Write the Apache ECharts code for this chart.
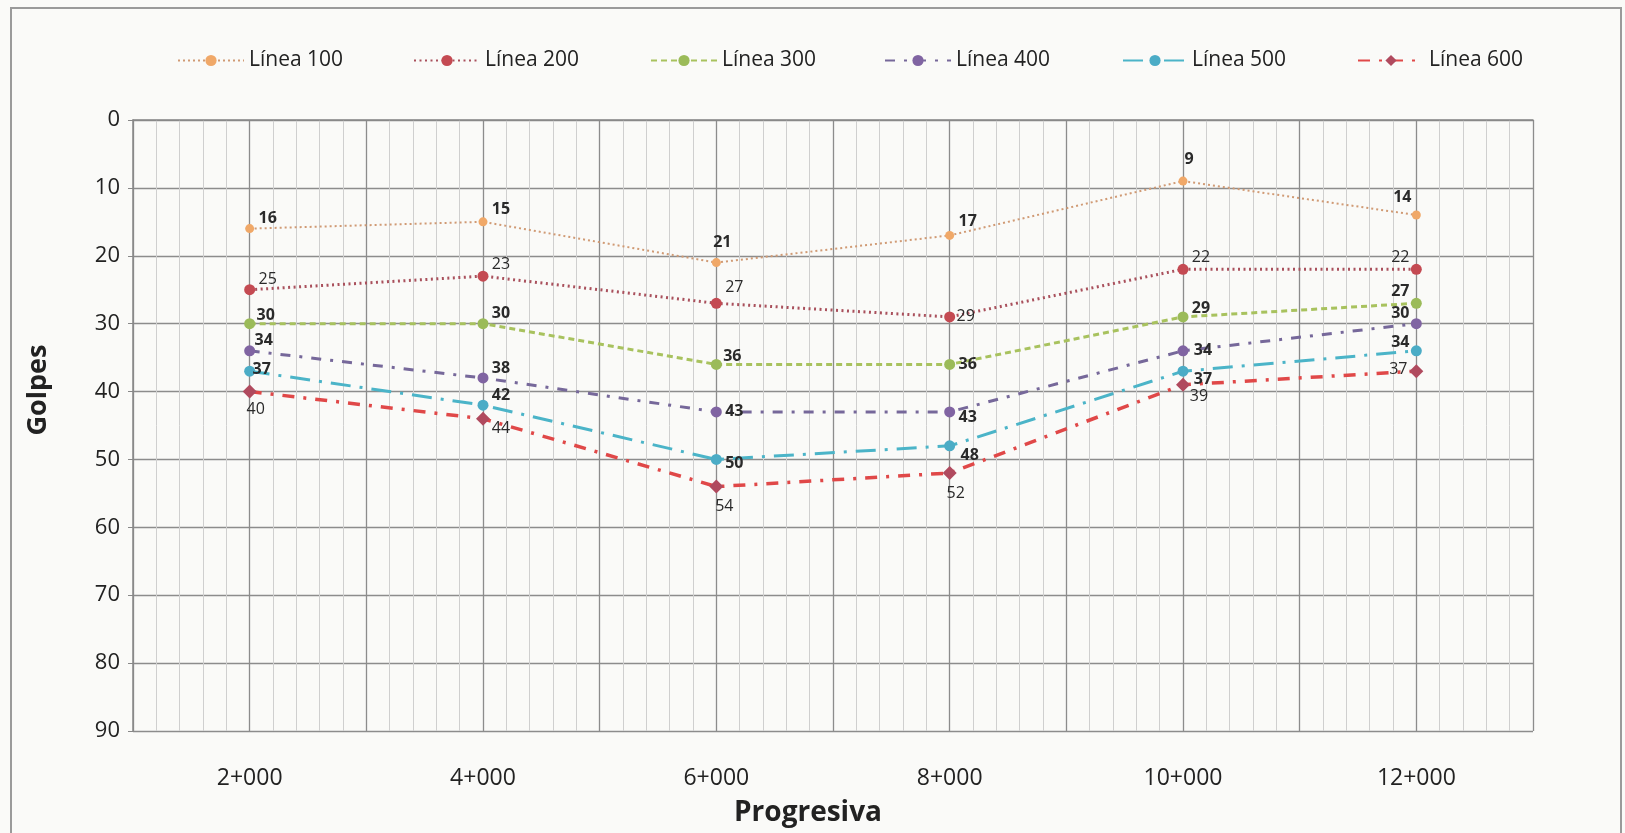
<!DOCTYPE html>
<html>
<head>
<meta charset="utf-8">
<script src="https://cdn.jsdelivr.net/npm/echarts@6/dist/echarts.min.js"></script>
<style>
html,body{margin:0;padding:0;background:#fafaf8;}
#chart{width:1625px;height:833px;}
</style>
</head>
<body>
<div id="chart"></div>
<script>
// ---- data ----
const progresivas = [2000, 4000, 6000, 8000, 10000, 12000];
const tickLabels = ['2+000', '4+000', '6+000', '8+000', '10+000', '12+000'];
const seriesNames = ['Línea 100', 'Línea 200', 'Línea 300', 'Línea 400', 'Línea 500', 'Línea 600'];
const linea100 = [16, 15, 21, 17, 9, 14];
const linea200 = [25, 23, 27, 29, 22, 22];
const linea300 = [30, 30, 36, 36, 29, 27];
const linea400 = [34, 38, 43, 43, 34, 30];
const linea500 = [37, 42, 50, 48, 37, 34];
const linea600 = [40, 44, 54, 52, 39, 37];
const yTicks = [0, 10, 20, 30, 40, 50, 60, 70, 80, 90];

// ---- styling (not data) ----
const styles = [
  {line: '#d09a74', mark: '#f0a868', dash: [2, 3], width: 2, symbol: 'circle', size: 9},
  {line: '#a9505c', mark: '#c44a52', dash: [2, 3.5], width: 3, symbol: 'circle', size: 11},
  {line: '#a8c25e', mark: '#9bbb59', dash: [6, 4], width: 3, symbol: 'circle', size: 11},
  {line: '#76689a', mark: '#8064a2', dash: [10, 9, 3, 9], width: 3, symbol: 'circle', size: 11},
  {line: '#4bb4c8', mark: '#4bacc6', dash: [20, 9, 3, 9], width: 3, symbol: 'circle', size: 11},
  {line: '#e04848', mark: '#b04a5e', dash: [12, 9, 3, 9], width: 3.5, symbol: 'diamond', size: 14}
];
// label offsets [dx, dy] relative to point centre
const labelOffsets = [
  [[18, -10], [18, -12], [6, -20], [18, -14], [6, -22], [-14, -18]],
  [[18, -10], [18, -12], [18, -16], [16, 0], [18, -12], [-16, -12]],
  [[16, -8], [18, -10], [16, -8], [18, 0], [18, -8], [-16, -12]],
  [[14, -10], [18, -10], [18, 0], [18, 6], [20, 0], [-16, -10]],
  [[12, -2], [18, -10], [18, 4], [20, 10], [20, 8], [-16, -8]],
  [[6, 18], [18, 10], [8, 20], [6, 20], [16, 12], [-18, -2]]
];
const boldSeries = [true, false, true, true, true, false];

const allValues = [linea100, linea200, linea300, linea400, linea500, linea600];

const series = allValues.map((vals, si) => ({
  name: seriesNames[si],
  type: 'line',
  symbol: styles[si].symbol,
  symbolSize: styles[si].size,
  itemStyle: {color: styles[si].mark},
  lineStyle: {color: styles[si].line, type: styles[si].dash, width: styles[si].width},
  z: 10 - si,
  data: vals.map((v, i) => ({
    value: [progresivas[i], v],
    label: {
      show: true,
      position: 'inside',
      offset: labelOffsets[si][i],
      formatter: String(v),
      color: '#2a2a2a',
      fontSize: 16,
      fontWeight: boldSeries[si] ? 'bold' : 'normal',
      fontFamily: 'Open Sans'
    }
  }))
}));

const legendLefts = [172, 408, 645, 879, 1117, 1352];
const legendWidths = [66, 66, 66, 66, 64, 66];
const legends = seriesNames.map((n, i) => ({
  data: [n],
  left: legendLefts[i],
  top: 45,
  itemWidth: legendWidths[i],
  itemHeight: 14,
  textStyle: {fontSize: 21, color: '#222', fontFamily: 'Open Sans'}
}));

const chart = echarts.init(document.getElementById('chart'));
chart.setOption({
  backgroundColor: '#fafaf8',
  animation: false,
  legend: legends,
  grid: {left: 133, right: 92, top: 120, bottom: 102},
  xAxis: {
    type: 'value',
    min: 1000,
    max: 13000,
    interval: 1000,
    name: 'Progresiva',
    nameLocation: 'middle',
    nameGap: 68,
    nameTextStyle: {fontSize: 28, fontWeight: 'bold', color: '#222', fontFamily: 'Open Sans', padding: [0, 50, 0, 0]},
    axisLine: {show: true, lineStyle: {color: '#888', width: 1.5}},
    axisTick: {show: false},
    axisLabel: {
      fontSize: 23, color: '#222', fontFamily: 'Open Sans', margin: 36,
      formatter: v => {
        const idx = progresivas.indexOf(v);
        return idx >= 0 ? tickLabels[idx] : '';
      }
    },
    splitLine: {show: true, lineStyle: {color: '#8c8c8c', width: 1.3}},
    minorTick: {show: false, splitNumber: 5},
    minorSplitLine: {show: true, lineStyle: {color: '#cfcfcf', width: 1}}
  },
  yAxis: {
    type: 'value',
    inverse: true,
    min: yTicks[0],
    max: yTicks[yTicks.length - 1],
    interval: 10,
    axisLine: {show: true, lineStyle: {color: '#888', width: 1.5}},
    axisTick: {show: true, length: 5, lineStyle: {color: '#888'}},
    axisLabel: {fontSize: 22, color: '#222', fontFamily: 'Open Sans', margin: 13},
    splitLine: {show: true, lineStyle: {color: '#8c8c8c', width: 1.3}}
  },
  graphic: [
    {type: 'rect', shape: {x: 11, y: 8, width: 1610, height: 830}, style: {fill: 'none', stroke: '#9a9a9a', lineWidth: 2}, silent: true},
    {type: 'text', x: 38, y: 390, rotation: Math.PI / 2,
     style: {text: 'Golpes', fontSize: 27, fontWeight: 'bold', fill: '#222', fontFamily: 'Open Sans', textAlign: 'center', textVerticalAlign: 'middle'}}
  ],
  series: series
});
</script>
</body>
</html>
